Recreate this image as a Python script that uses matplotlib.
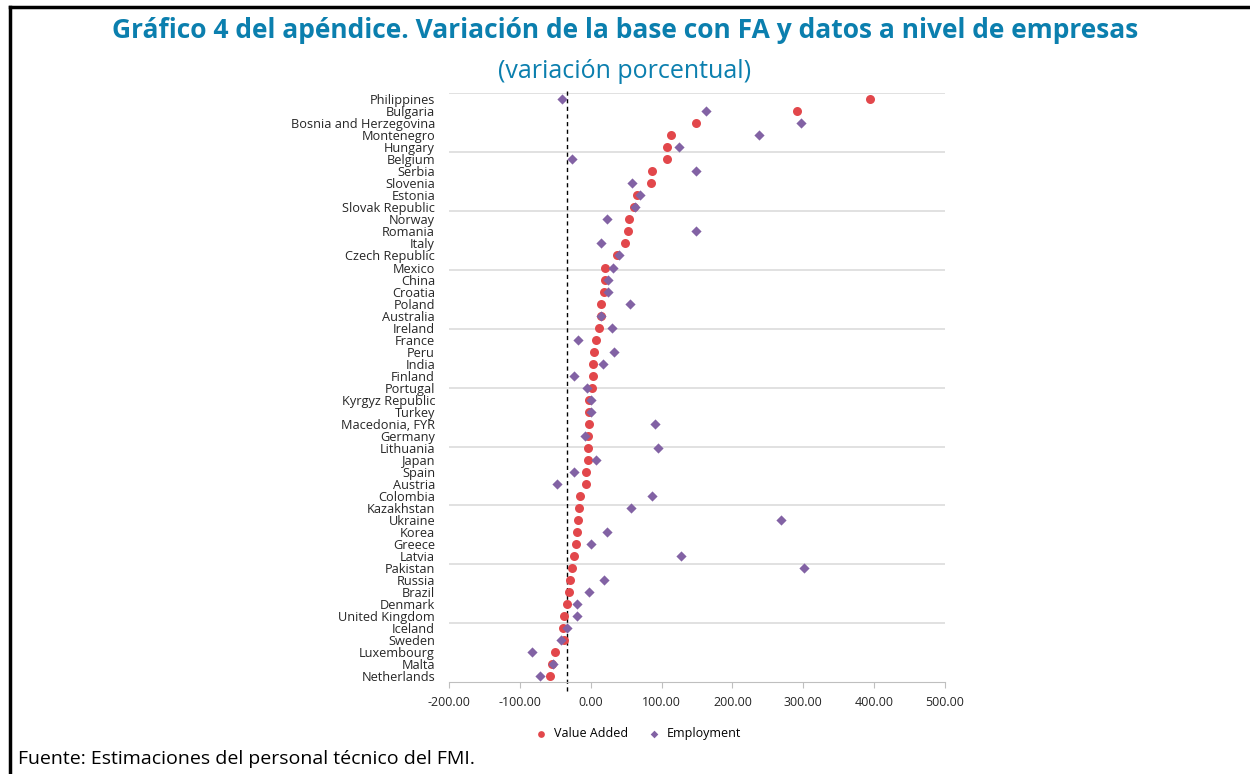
import numpy as np
import matplotlib.pyplot as plt
from matplotlib.lines import Line2D

countries = ['Philippines', 'Bulgaria', 'Bosnia and Herzegovina', 'Montenegro', 'Hungary',
             'Belgium', 'Serbia', 'Slovenia', 'Estonia', 'Slovak Republic',
             'Norway', 'Romania', 'Italy', 'Czech Republic', 'Mexico',
             'China', 'Croatia', 'Poland', 'Australia', 'Ireland',
             'France', 'Peru', 'India', 'Finland', 'Portugal',
             'Kyrgyz Republic', 'Turkey', 'Macedonia, FYR', 'Germany', 'Lithuania',
             'Japan', 'Spain', 'Austria', 'Colombia', 'Kazakhstan',
             'Ukraine', 'Korea', 'Greece', 'Latvia', 'Pakistan',
             'Russia', 'Brazil', 'Denmark', 'United Kingdom', 'Iceland',
             'Sweden', 'Luxembourg', 'Malta', 'Netherlands']

value_added = [394, 291, 148, 113, 108,
               108, 87, 85, 65, 61,
               54, 53, 49, 37, 20,
               20, 19, 15, 14, 12,
               7, 4, 3, 3, 2,
               -2, -3, -3, -4, -4,
               -4, -7, -7, -15, -16,
               -18, -20, -21, -23, -27,
               -29, -31, -34, -38, -39,
               -38, -51, -54, -57]

employment = [-40, 163, 297, 237, 125,
              -26, 148, 58, 69, 62,
              23, 149, 14, 40, 31,
              24, 24, 55, 14, 30,
              -18, 33, 17, -24, -5,
              0, 0, 91, -8, 95,
              8, -24, -47, 86, 57,
              269, 23, 0, 127, 301,
              19, -2, -19, -19, -34,
              -42, -83, -53, -72]

ref_line = -33
xticks = [-200, -100, 0, 100, 200, 300, 400, 500]

title_color = '#0b7fae'
red = '#e2474b'
purple = '#8262a4'

plt.rcParams['font.family'] = ['Open Sans', 'DejaVu Sans']

fig = plt.figure(figsize=(12.5, 7.74), dpi=100)
ax = fig.add_axes([449 / 1250, 1 - 682 / 774, (945 - 449) / 1250, (682 - 93.3) / 774])

ypos = np.arange(len(countries))

# gridlines every 4.9 rows, like the original value axis
for g in np.linspace(-0.5, 48.5, 11)[:-1]:
    ax.axhline(g, color='#d9d9d9', lw=1.1, zorder=0)

ax.axvline(ref_line, ymin=-0.015, ymax=1.005, color='black', lw=1.0,
           linestyle=(0, (3, 2.5)), clip_on=False, zorder=1)

ax.scatter(value_added, ypos, s=42, marker='o', color=red, label='Value Added', zorder=3,
           linewidths=0)
ax.scatter(employment, ypos, s=27, marker='D', color=purple, label='Employment', zorder=4,
           linewidths=0)

ax.set_xlim(-200, 500)
ax.set_ylim(48.5, -0.5)
ax.set_xticks(xticks)
ax.set_xticklabels([f'{t:.2f}' for t in xticks])
ax.set_yticks(ypos)
ax.set_yticklabels(countries)

for s in ['top', 'right', 'left']:
    ax.spines[s].set_visible(False)
ax.spines['bottom'].set_color('#bfbfbf')
ax.tick_params(axis='x', length=4, color='#bfbfbf', labelsize=9, labelcolor='#262626', pad=6)
ax.tick_params(axis='y', length=0, labelsize=9.2, labelcolor='#262626', pad=10)

leg = ax.legend(loc='upper center', bbox_to_anchor=(0.375, -0.058), ncol=2, frameon=False,
                fontsize=9, handletextpad=0.05, columnspacing=1.0, markerscale=0.75)

fig.text(0.5, 1 - 31 / 774, 'Gráfico 4 del apéndice. Variación de la base con FA y datos a nivel de empresas',
         ha='center', va='center', fontsize=19, fontweight='bold', color=title_color)
fig.text(0.5, 1 - 71 / 774, '(variación porcentual)', ha='center', va='center',
         fontsize=18, color=title_color)
fig.text(18 / 1250, 1 - 759 / 774, 'Fuente: Estimaciones del personal técnico del FMI.',
         ha='left', va='center', fontsize=14, color='black')

# frame
fig.add_artist(Line2D([10 / 1250, 1], [1 - 7 / 774, 1 - 7 / 774], color='black', lw=2.5,
                      transform=fig.transFigure))
fig.add_artist(Line2D([10 / 1250, 10 / 1250], [0, 1 - 7 / 774], color='black', lw=2.5,
                      transform=fig.transFigure))

fig.savefig('out.png', dpi=100)
